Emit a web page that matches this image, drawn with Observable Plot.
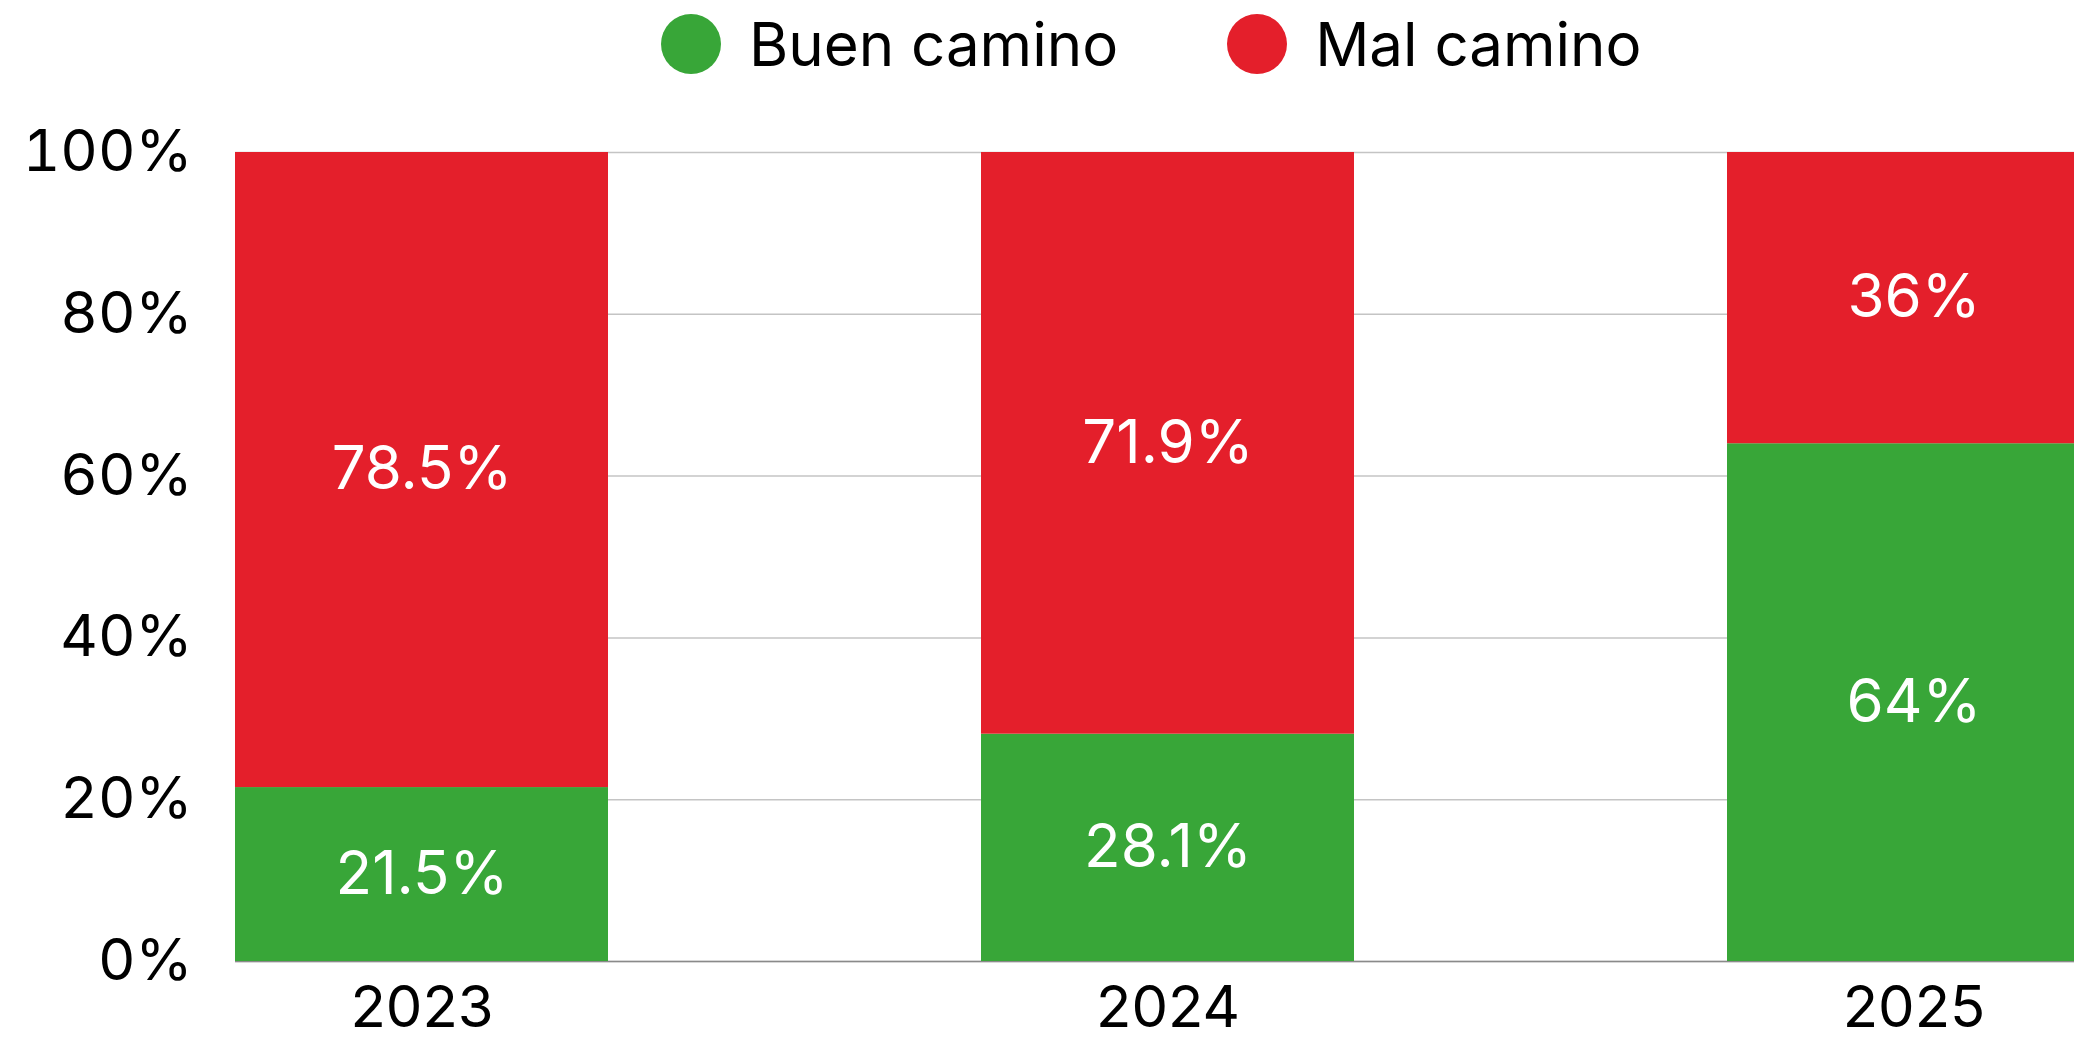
<!DOCTYPE html>
<html><head><meta charset="utf-8">
<script src="https://cdn.jsdelivr.net/npm/d3@7"></script>
<script src="https://cdn.jsdelivr.net/npm/@observablehq/plot@0.6"></script>
<style>
html,body{margin:0;padding:0;background:#fff;overflow:hidden;width:2074px;height:1039px;}
#legend{position:relative;height:90px;font-family:Inter,sans-serif;font-size:60px;color:#000;}
#legend .items{position:absolute;left:661px;top:14px;display:flex;align-items:center;gap:109px;}
#legend .item{display:flex;align-items:center;gap:28px;height:60px;}
#legend .sw{width:60px;height:60px;border-radius:50%;}
#chart{width:2100px;}
</style>
</head><body>
<div id="legend"><div class="items"></div></div>
<div id="chart"></div>
<script>
const years = ["2023", "2024", "2025"];
const series = ["Buen camino", "Mal camino"];
const buen = [21.5, 28.1, 64];
const mal = [78.5, 71.9, 36];
const colors = ["#38a638", "#e41f2b"];
const yTicks = [0, 20, 40, 60, 80, 100];

const data = [];
years.forEach((yr, i) => {
  data.push({year: yr, series: series[0], value: buen[i]});
  data.push({year: yr, series: series[1], value: mal[i]});
});

const items = document.querySelector("#legend .items");
series.forEach((s, i) => {
  const it = document.createElement("div");
  it.className = "item";
  const sw = document.createElement("div");
  sw.className = "sw";
  sw.style.background = colors[i];
  const t = document.createElement("span");
  t.textContent = s;
  it.appendChild(sw); it.appendChild(t);
  items.appendChild(it);
});

const chart = Plot.plot({
  width: 2100,
  height: 949,
  marginLeft: 235,
  marginRight: 0,
  marginTop: 62,
  marginBottom: 78,
  style: {fontFamily: "Inter, sans-serif", color: "#000", background: "#fff", overflow: "visible"},
  x: {domain: years, paddingInner: 0.5, paddingOuter: 0, label: null},
  y: {domain: [0, 100], label: null},
  color: {domain: series, range: colors},
  marks: [
    Plot.gridY(yTicks, {stroke: "#c4c4c4", strokeOpacity: 1, strokeWidth: 1.5}),
    Plot.ruleY([0], {stroke: "#8a8a8a", strokeWidth: 1.5}),
    Plot.barY(data, {x: "year", y: "value", fill: "series"}),
    Plot.text(data, Plot.stackY({x: "year", y: "value", z: "series", text: d => `${d.value}%`, fill: "white", fontSize: 60})),
    Plot.axisY({ticks: yTicks, tickFormat: d => `${d}%`, tickSize: 0, tickPadding: 43, fontSize: 58, label: null, fill: "#000"}),
    Plot.axisX({tickSize: 0, tickPadding: 24, fontSize: 58, label: null, fill: "#000"})
  ]
});
document.getElementById("chart").appendChild(chart);
</script>
</body></html>
